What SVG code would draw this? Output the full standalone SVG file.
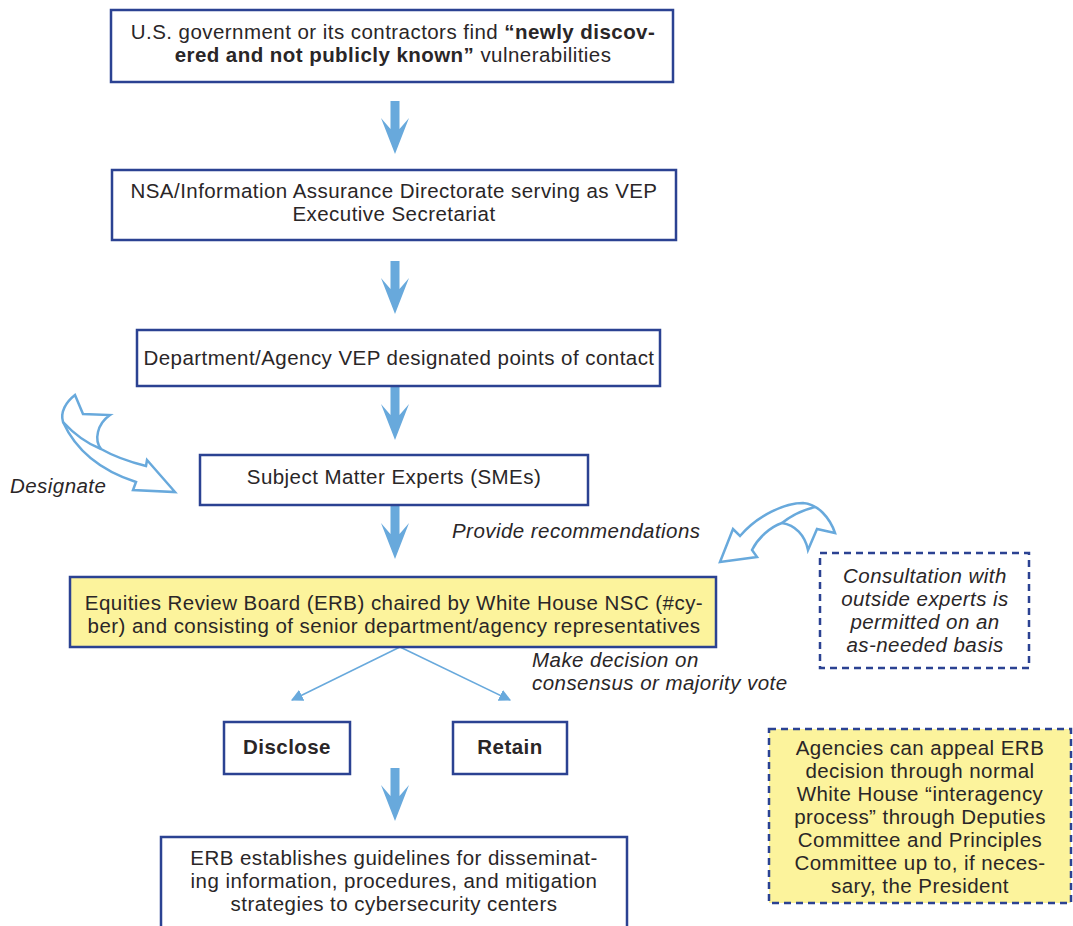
<svg xmlns="http://www.w3.org/2000/svg" width="1073" height="926" viewBox="0 0 1073 926">
<style>
.box{fill:#fff;stroke:#2b4292;stroke-width:2.5}
.yb{fill:#fcf39c;stroke:#2b4292;stroke-width:2.5}
.dash{fill:#fff;stroke:#2b4292;stroke-width:2.5;stroke-dasharray:7 5}
.dashy{fill:#fcf39c;stroke:#2b4292;stroke-width:2.5;stroke-dasharray:7 5}
text{font-family:"Liberation Sans",Arial,sans-serif;font-size:20.5px;letter-spacing:0.45px;fill:#2a2627}
.c{text-anchor:middle}
.b{font-weight:bold}
.i{font-style:italic}
.ba{fill:#68a9dc}
.ha{fill:none;stroke:#68a9dc;stroke-width:2.5;stroke-linejoin:miter}
.tl{stroke:#68a9dc;stroke-width:1.5;fill:none}
</style>
<defs>
<marker id="tri" viewBox="0 0 10 10" refX="9" refY="5" markerWidth="12" markerHeight="12" markerUnits="userSpaceOnUse" orient="auto">
<path d="M0,0 L10,5 L0,10 Z" fill="#68a9dc"/>
</marker>
<path id="da" d="M-4.5,0 L-4.5,28 L-14,17 L0,53 L14,17 L4.5,28 L4.5,0 Z"/>
</defs>
<g id="connectors">
<use href="#da" class="ba" x="395" y="101"/>
<use href="#da" class="ba" x="395" y="261"/>
<use href="#da" class="ba" x="395" y="387"/>
<use href="#da" class="ba" x="395" y="506"/>
<use href="#da" class="ba" x="395" y="768"/>
<path class="tl" d="M400,647 L292,700" marker-end="url(#tri)"/>
<path class="tl" d="M400,647 L510,700" marker-end="url(#tri)"/>
<path class="ha" d="M75,395 L83,414 L110,415 C97,424 94,440 101,449 C115,457 130,462 146,466 L147,460 L175,492 L133,490 L136,482 C105,472 78,455 63,422 C60,412 66,402 75,395 Z"/>
<path class="ha" d="M63,422 C75,435 88,444 101,449"/>
<path class="ha" d="M720,562 L733,529 L740,536 C758,515 785,503 803,503 C818,504 830,518 835,533 L817,529 L808,550 C805,535 795,525 782,523 C770,527 758,538 752,550 L757,557 Z"/>
<path class="ha" d="M782,523 C792,515 803,510 815,507"/>
<text class="i" x="10" y="493">Designate</text>
<text class="i" x="452" y="538">Provide recommendations</text>
<text class="i" x="532" y="667">Make decision on</text>
<text class="i" x="532" y="690">consensus or majority vote</text>
</g>
<g id="n1">
<rect class="box" x="111" y="10" width="562" height="72"/>
<text class="c" x="393" y="39">U.S. government or its contractors find <tspan class="b">“newly discov-</tspan></text>
<text class="c" x="393" y="62"><tspan class="b">ered and not publicly known”</tspan> vulnerabilities</text>
</g>
<g id="n2">
<rect class="box" x="112" y="170" width="564" height="70"/>
<text class="c" x="394" y="198">NSA/Information Assurance Directorate serving as VEP</text>
<text class="c" x="394" y="221">Executive Secretariat</text>
</g>
<g id="n3">
<rect class="box" x="137" y="330" width="523" height="56"/>
<text class="c" x="399" y="365">Department/Agency VEP designated points of contact</text>
</g>
<g id="n4">
<rect class="box" x="200" y="455" width="388" height="50"/>
<text class="c" x="394" y="484">Subject Matter Experts (SMEs)</text>
</g>
<g id="n5">
<rect class="yb" x="70" y="577" width="646" height="70"/>
<text class="c" x="394" y="610">Equities Review Board (ERB) chaired by White House NSC (#cy-</text>
<text class="c" x="394" y="633">ber) and consisting of senior department/agency representatives</text>
</g>
<g id="n6">
<rect class="box" x="224" y="722" width="126" height="52"/>
<text class="c b" x="287" y="754">Disclose</text>
</g>
<g id="n7">
<rect class="box" x="453" y="722" width="114" height="52"/>
<text class="c b" x="510" y="754">Retain</text>
</g>
<g id="n8">
<rect class="box" x="161" y="837" width="466" height="100"/>
<text class="c" x="394" y="865">ERB establishes guidelines for disseminat-</text>
<text class="c" x="394" y="888">ing information, procedures, and mitigation</text>
<text class="c" x="394" y="911">strategies to cybersecurity centers</text>
</g>
<g id="n9">
<rect class="dash" x="820" y="553" width="209" height="115"/>
<text class="c i" x="925" y="583">Consultation with</text>
<text class="c i" x="925" y="606">outside experts is</text>
<text class="c i" x="925" y="629">permitted on an</text>
<text class="c i" x="925" y="652">as-needed basis</text>
</g>
<g id="n10">
<rect class="dashy" x="769" y="729" width="302" height="174"/>
<text class="c" x="920" y="755">Agencies can appeal ERB</text>
<text class="c" x="920" y="778">decision through normal</text>
<text class="c" x="920" y="801">White House “interagency</text>
<text class="c" x="920" y="824">process” through Deputies</text>
<text class="c" x="920" y="847">Committee and Principles</text>
<text class="c" x="920" y="870">Committee up to, if neces-</text>
<text class="c" x="920" y="893">sary, the President</text>
</g>
</svg>
